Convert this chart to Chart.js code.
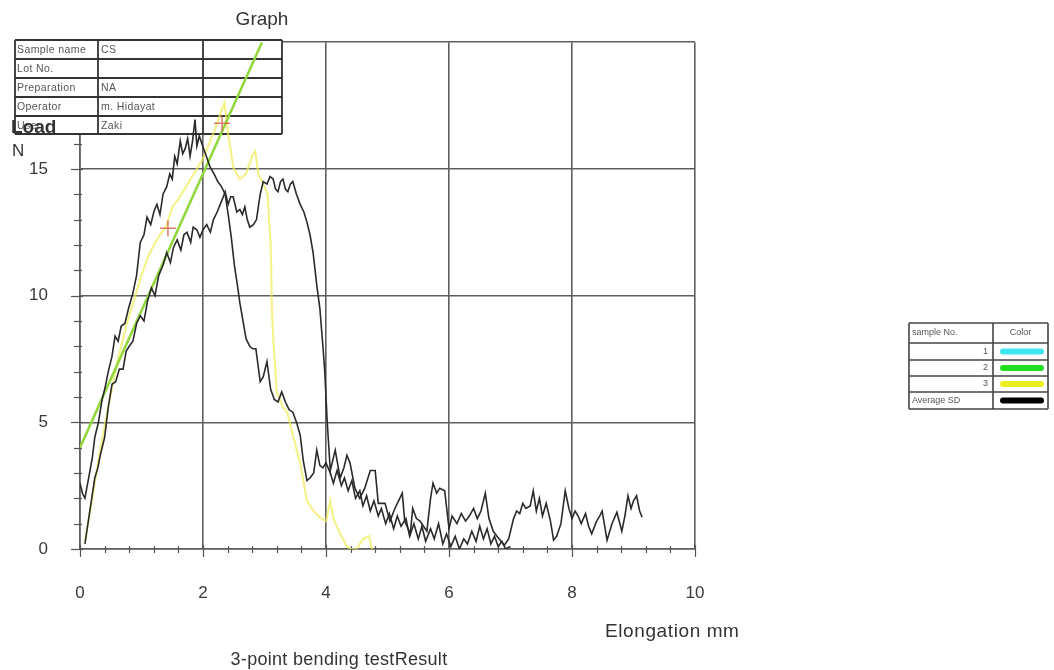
<!DOCTYPE html>
<html><head><meta charset="utf-8">
<script src="https://cdn.jsdelivr.net/npm/chart.js@4.4.1/dist/chart.umd.min.js"></script>
<style>html,body{margin:0;padding:0;background:#fff;}#wrap{position:relative;width:1054px;height:670px;}</style>
</head><body><div id="wrap"><canvas id="c" width="1054" height="670"></canvas></div>
<script>
// ---- tick labels ----
const xTicks = [0, 2, 4, 6, 8, 10];
const yTicks = [0, 5, 10, 15, 20];

// ---- Average curve A (early peak) ----
const avgAX = [0,0.04,0.08,0.14,0.2,0.24,0.3,0.36,0.41,0.46,0.52,0.57,0.62,0.67,0.73,0.79,0.86,0.92,0.98,1.04,1.09,1.15,1.2,1.25,1.3,1.35,1.41,1.46,1.5,1.54,1.58,1.63,1.67,1.71,1.75,1.79,1.83,1.87,1.9,1.94,1.98,2.04,2.11,2.18,2.24,2.3,2.36,2.41,2.46,2.51,2.56,2.6,2.65,2.7,2.76,2.81,2.86,2.93,2.98,3.04,3.1,3.16,3.22,3.28,3.34,3.4,3.46,3.52,3.58,3.63,3.69,3.74,3.8,3.85,3.9,3.95,4.0,4.07,4.12,4.18,4.25,4.3,4.36,4.42,4.48,4.55,4.6,4.66,4.72,4.78,4.85,4.9,4.97,5.03,5.1,5.16,5.22,5.3,5.36,5.43,5.5,5.56,5.62,5.7,5.76,5.83,5.9,5.96,6.03,6.1,6.17,6.24,6.3,6.37,6.44,6.5,6.56,6.62,6.68,6.74,6.8,6.86,6.92,7.0];
const avgAY = [2.6,2.2,2.0,2.8,3.6,4.4,5.0,5.9,6.4,7.0,7.6,8.4,8.2,8.8,8.9,9.5,10.1,10.8,12.1,12.4,13.1,12.8,13.3,13.6,13.2,14.0,14.3,14.8,14.6,15.5,15.2,16.1,15.6,15.8,16.2,15.5,16.1,16.95,15.9,16.3,16.0,15.6,15.1,14.8,14.5,14.3,14.0,13.2,12.3,11.2,10.4,9.7,9.0,8.3,8.0,7.9,7.9,6.6,6.8,7.4,6.3,5.9,5.8,6.2,5.8,5.5,5.4,5.0,4.5,3.5,2.7,2.8,3.0,3.9,3.3,3.2,3.4,3.0,2.6,3.1,2.5,2.8,2.3,2.7,2.0,2.3,1.7,2.1,1.5,1.9,1.3,1.6,1.0,1.4,0.8,1.3,0.9,1.2,0.5,1.0,0.4,0.9,0.3,0.8,0.4,1.0,0.2,0.6,0.1,0.5,0.0,0.4,0.2,0.7,0.3,0.9,0.4,0.8,0.2,0.5,0.1,0.3,0.0,0.1];

// ---- Average curve B (late plateau, long tail) ----
const avgBX = [0.08,0.16,0.24,0.29,0.33,0.4,0.46,0.52,0.58,0.64,0.7,0.75,0.8,0.86,0.92,0.98,1.04,1.1,1.16,1.22,1.28,1.35,1.41,1.47,1.52,1.58,1.64,1.69,1.74,1.8,1.84,1.9,1.95,2.0,2.06,2.12,2.17,2.23,2.28,2.33,2.36,2.41,2.45,2.49,2.55,2.6,2.64,2.68,2.72,2.76,2.82,2.87,2.93,2.98,3.04,3.09,3.14,3.18,3.22,3.26,3.3,3.34,3.38,3.42,3.46,3.52,3.58,3.64,3.69,3.74,3.79,3.85,3.9,3.95,3.98,4.02,4.07,4.15,4.23,4.29,4.34,4.39,4.47,4.55,4.63,4.72,4.8,4.85,4.96,5.04,5.12,5.18,5.24,5.28,5.37,5.41,5.47,5.53,5.64,5.7,5.74,5.8,5.85,5.93,6.0,6.05,6.13,6.2,6.27,6.33,6.4,6.46,6.52,6.59,6.65,6.72,6.78,6.85,6.9,6.97,7.05,7.1,7.15,7.2,7.25,7.32,7.37,7.42,7.47,7.52,7.58,7.65,7.7,7.75,7.82,7.89,7.95,8.0,8.05,8.1,8.15,8.22,8.27,8.32,8.4,8.45,8.49,8.57,8.65,8.73,8.81,8.86,8.91,8.96,9.0,9.05,9.1,9.14];
const avgBY = [0.2,1.5,2.8,3.2,3.7,4.4,5.6,6.5,6.6,7.1,7.1,7.8,8.0,8.2,8.9,9.2,9.0,9.8,10.3,10.0,10.8,11.2,11.7,11.3,11.9,12.2,11.8,12.4,12.5,12.1,12.7,12.6,12.3,12.6,12.8,12.5,13.0,13.3,13.6,13.9,14.1,13.6,13.9,13.9,13.3,13.4,13.2,13.5,13.0,12.7,12.8,13.0,14.0,14.5,14.4,14.7,14.6,14.2,14.1,14.5,14.6,14.2,14.1,14.4,14.5,14.0,13.6,13.3,12.9,12.4,11.7,10.4,9.5,8.0,7.0,5.0,3.1,3.9,2.8,3.2,3.7,3.4,2.4,2.0,2.4,3.1,3.1,1.8,1.8,1.1,1.6,1.9,2.2,1.1,0.6,1.6,1.2,1.1,0.7,2.0,2.6,2.2,2.4,2.3,0.8,1.3,1.0,1.4,1.1,1.3,1.6,1.2,1.5,2.2,1.2,0.7,0.5,0.3,0.15,0.4,1.2,1.5,1.4,1.8,1.6,1.7,2.3,1.5,2.0,1.3,1.8,1.1,0.35,0.5,1.0,2.3,1.6,1.2,1.5,1.3,1.0,1.4,0.9,0.6,1.1,1.3,1.5,0.35,1.0,1.45,0.7,1.3,2.1,1.6,1.9,2.1,1.5,1.25];

// ---- Sample 3 (yellow) ----
const s3X = [0.08,0.2,0.3,0.45,0.6,0.75,0.9,1.0,1.1,1.2,1.3,1.4,1.5,1.6,1.7,1.8,1.9,2.0,2.1,2.2,2.3,2.35,2.4,2.5,2.6,2.7,2.8,2.85,2.9,3.0,3.05,3.1,3.12,3.15,3.2,3.3,3.37,3.46,3.58,3.69,3.8,3.9,4.0,4.07,4.12,4.23,4.34,4.4,4.5,4.6,4.7,4.75];
const s3Y = [0.3,2.0,3.5,5.5,7.3,8.8,10.0,10.8,11.5,12.0,12.4,12.7,13.5,13.8,14.2,14.6,15.0,15.4,16.0,16.6,17.3,17.6,16.5,15.0,14.6,14.8,15.5,15.7,14.8,14.3,14.0,12.0,9.5,8.0,6.2,5.6,5.4,4.5,3.4,1.9,1.5,1.25,1.1,1.9,1.2,0.6,0.1,0.0,0.0,0.4,0.5,0.0];

// ---- Fitted line (green) ----
const fitX = [0, 2.96];
const fitY = [4.0, 20.0];

// ---- Marker crosses ----
const markX = [1.43, 2.31];
const markY = [12.66, 16.8];

// ---- text ----
const infoRows = [["Sample name","CS"],["Lot No.",""],["Preparation","NA"],["Operator","m. Hidayat"],["User","Zaki"]];
const legendRows = [["1","#3ee6f2"],["2","#22dd22"],["3","#eeee22"],["Average SD","#000000"]];

const pts = (xs, ys) => xs.map((x, i) => ({x, y: ys[i]}));
const FONT = "'Liberation Sans', Arial, sans-serif";

const decor = {
  id: 'decor',
  beforeDatasetsDraw(chart) {
    const c = chart.ctx, xs = chart.scales.x, ys = chart.scales.y, a = chart.chartArea;
    c.save();
    c.strokeStyle = '#555'; c.lineWidth = 1.2;
    for (let i = 0; i <= 25; i++) {
      const px = Math.round(xs.getPixelForValue(i * 0.4)) + 0.5;
      const maj = i % 5 === 0;
      c.beginPath(); c.moveTo(px, a.bottom - (maj ? 4 : 3)); c.lineTo(px, a.bottom + (maj ? 8 : 4)); c.stroke();
    }
    for (let i = 0; i <= 20; i++) {
      const py = Math.round(ys.getPixelForValue(i)) + 0.5;
      const maj = i % 5 === 0;
      c.beginPath(); c.moveTo(a.left - (maj ? 9 : 6), py); c.lineTo(a.left + (maj ? 3 : 2), py); c.stroke();
    }
    // info table
    const tx = [15, 98, 203, 282], ty = [40, 59, 78, 97, 116, 134];
    c.fillStyle = '#fff'; c.fillRect(tx[0], ty[0], tx[3] - tx[0], ty[5] - ty[0]);
    c.strokeStyle = '#333'; c.lineWidth = 1.8;
    ty.forEach(y => { c.beginPath(); c.moveTo(tx[0], y); c.lineTo(tx[3], y); c.stroke(); });
    tx.forEach(x => { c.beginPath(); c.moveTo(x, ty[0]); c.lineTo(x, ty[5]); c.stroke(); });
    c.fillStyle = '#555'; c.font = '10.5px ' + FONT; c.textBaseline = 'middle'; c.textAlign = 'left';
    c.letterSpacing = '0.4px';
    infoRows.forEach((r, i) => {
      const my = (ty[i] + ty[i + 1]) / 2 + 1;
      c.fillText(r[0], tx[0] + 2, my);
      c.fillText(r[1], tx[1] + 3, my);
    });
    c.letterSpacing = '0px';
    c.restore();
  },
  afterDatasetsDraw(chart) {
    const c = chart.ctx;
    c.save();
    c.fillStyle = '#333'; c.textBaseline = 'middle';
    c.font = '19px ' + FONT; c.textAlign = 'center'; c.fillText('Graph', 262, 20);
    c.font = 'bold 19px ' + FONT; c.textAlign = 'left'; c.fillText('Load', 11, 128);
    c.font = '17px ' + FONT; c.fillText('N', 12, 151);
    c.font = '19px ' + FONT; c.letterSpacing = '0.6px'; c.fillText('Elongation mm', 605, 632);
    c.font = '18px ' + FONT; c.letterSpacing = '0.3px';
    c.textAlign = 'center'; c.fillText('3-point bending testResult', 339, 660);
    c.letterSpacing = '0px';
    // legend table
    const lx = [909, 993, 1048], ly = [323, 343, 360, 376, 392, 409];
    c.strokeStyle = '#444'; c.lineWidth = 1.6;
    ly.forEach(y => { c.beginPath(); c.moveTo(lx[0], y); c.lineTo(lx[2], y); c.stroke(); });
    lx.forEach(x => { c.beginPath(); c.moveTo(x, ly[0]); c.lineTo(x, ly[5]); c.stroke(); });
    c.font = '9px ' + FONT; c.fillStyle = '#555';
    c.textAlign = 'left'; c.fillText('sample No.', lx[0] + 3, (ly[0] + ly[1]) / 2);
    c.textAlign = 'center'; c.fillText('Color', (lx[1] + lx[2]) / 2, (ly[0] + ly[1]) / 2);
    legendRows.forEach((r, i) => {
      const my = (ly[i + 1] + ly[i + 2]) / 2;
      if (i < 3) { c.textAlign = 'right'; c.fillText(r[0], lx[1] - 5, my); }
      else { c.textAlign = 'left'; c.fillText(r[0], lx[0] + 3, my); }
      c.fillStyle = r[1];
      c.beginPath(); c.roundRect(1000, my - 3, 44, 6, 3); c.fill();
      c.fillStyle = '#555';
    });
    c.restore();
  }
};

const lineDs = (data, color, w) => ({data, showLine: true, borderColor: color, backgroundColor: color, borderWidth: w, pointRadius: 0, fill: false, tension: 0});

new Chart(document.getElementById('c'), {
  type: 'scatter',
  data: {
    datasets: [
      {data: pts(markX, markY), showLine: false, pointStyle: 'cross', pointRadius: 8, borderColor: 'rgba(215,90,70,0.8)', borderWidth: 1.5},
      lineDs(pts(avgAX, avgAY), '#2a2a2a', 1.6),
      lineDs(pts(avgBX, avgBY), '#2a2a2a', 1.6),
      lineDs(pts(fitX, fitY), 'rgb(145,215,60)', 2.5),
      lineDs(pts(s3X, s3Y), 'rgba(240,238,90,0.7)', 2.2)
    ]
  },
  options: {
    responsive: false, animation: false, devicePixelRatio: 1,
    layout: {padding: {left: 0, top: 40, right: 359, bottom: 0}},
    plugins: {legend: {display: false}, tooltip: {enabled: false}, title: {display: false}},
    scales: {
      x: {
        type: 'linear', min: 0, max: 10,
        afterFit(s) { s.height = 121; },
        afterBuildTicks(s) { s.ticks = xTicks.map(v => ({value: v})); },
        ticks: {font: {family: FONT, size: 17}, color: '#3a3a3a', padding: 34, maxRotation: 0, autoSkip: false},
        grid: {color: '#5e5e5e', lineWidth: 1.6, drawTicks: false},
        border: {color: '#5e5e5e', width: 1.6}
      },
      y: {
        type: 'linear', min: 0, max: 20,
        afterFit(s) { s.width = 80; },
        afterBuildTicks(s) { s.ticks = yTicks.map(v => ({value: v})); },
        ticks: {font: {family: FONT, size: 17}, color: '#3a3a3a', padding: 32, callback: v => (v === 20 ? '' : String(v))},
        grid: {color: '#5e5e5e', lineWidth: 1.6, drawTicks: false},
        border: {color: '#5e5e5e', width: 1.6}
      }
    }
  },
  plugins: [decor]
});
</script></body></html>
